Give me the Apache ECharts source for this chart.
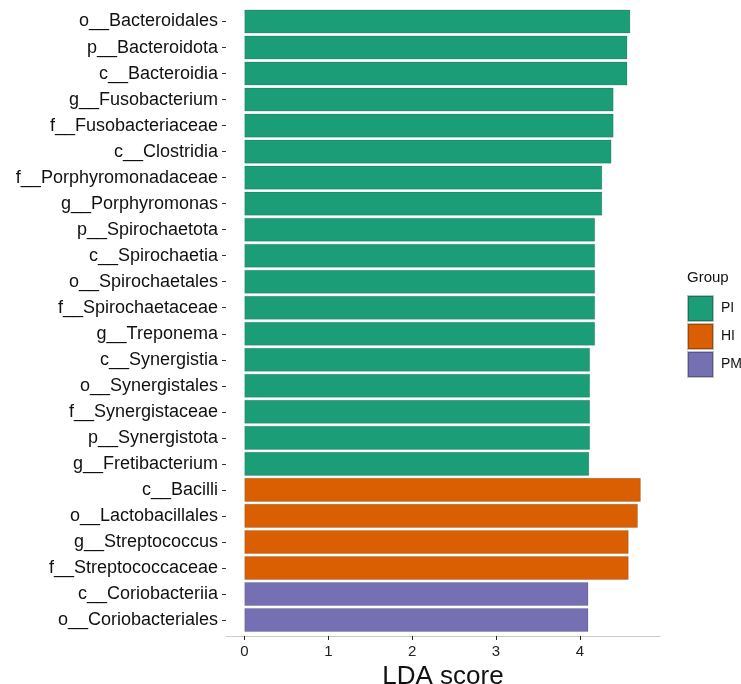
<!DOCTYPE html>
<html>
<head>
<meta charset="utf-8">
<script src="https://cdn.jsdelivr.net/npm/echarts@6/dist/echarts.min.js"></script>
<style>html,body{margin:0;padding:0;background:#fff;}#c{width:741px;height:684px;}</style>
</head>
<body>
<div id="c"></div>
<script>
var categories = ["o__Bacteroidales","p__Bacteroidota","c__Bacteroidia","g__Fusobacterium","f__Fusobacteriaceae","c__Clostridia","f__Porphyromonadaceae","g__Porphyromonas","p__Spirochaetota","c__Spirochaetia","o__Spirochaetales","f__Spirochaetaceae","g__Treponema","c__Synergistia","o__Synergistales","f__Synergistaceae","p__Synergistota","g__Fretibacterium","c__Bacilli","o__Lactobacillales","g__Streptococcus","f__Streptococcaceae","c__Coriobacteriia","o__Coriobacteriales"];
var groups = ["PI","PI","PI","PI","PI","PI","PI","PI","PI","PI","PI","PI","PI","PI","PI","PI","PI","PI","HI","HI","HI","HI","PM","PM"];
var ldaScores = [4.60,4.565,4.565,4.40,4.40,4.375,4.265,4.265,4.18,4.18,4.18,4.18,4.18,4.12,4.12,4.12,4.12,4.11,4.725,4.69,4.58,4.58,4.10,4.10];
var groupNames = ["PI","HI","PM"];
var groupColors = {"PI":"#1b9e77","HI":"#d95f02","PM":"#7570b3"};
var xTicks = [0,1,2,3,4];

var FONT = 'Liberation Sans, Arial, sans-serif';
var chart = echarts.init(document.getElementById('c'), null, {renderer:'canvas'});
var series = groupNames.map(function(g){
  return {
    name: g,
    type: 'bar',
    stack: 'all',
    barCategoryGap: '9%',
    itemStyle: {color: groupColors[g], borderColor: 'rgba(0,0,0,0.25)', borderWidth: 0.6},
    data: ldaScores.map(function(v,i){ return groups[i]===g ? v : null; })
  };
});
chart.setOption({
  animation: false,
  backgroundColor: '#fff',
  textStyle: {fontFamily: FONT},
  title: {text: 'Group', left: 687, top: 270, padding: 0, textStyle: {fontSize: 15, fontWeight: 'normal', color: '#111', fontFamily: FONT}},
  legend: {
    orient: 'vertical', left: 687, top: 295, padding: 0, itemWidth: 25, itemHeight: 25, itemGap: 1,
    icon: 'rect', data: groupNames,
    textStyle: {fontSize: 14, color: '#111', padding: [0,0,0,3], fontFamily: FONT}
  },
  grid: {left: 226, right: 81, top: 8.5, bottom: 684-633, containLabel: false, outerBoundsMode: 'none'},
  xAxis: {
    type: 'value', min: -0.22, max: 4.955, offset: 3,
    splitLine: {show: false},
    axisLine: {show: true, lineStyle: {color: '#c8cfc0', width: 1}},
    axisTick: {show: true, customValues: xTicks, length: 4, lineStyle: {color: '#222'}},
    axisLabel: {customValues: xTicks, fontSize: 15, color: '#222', margin: 8, fontFamily: FONT},
    name: 'LDA score', nameLocation: 'middle', nameGap: 22,
    nameTextStyle: {fontSize: 26, color: '#111', fontFamily: FONT}
  },
  yAxis: {
    type: 'category', data: categories, inverse: true,
    axisLine: {show: false, onZero: false},
    axisTick: {show: true, length: 4, alignWithLabel: true, lineStyle: {color: '#333'}},
    axisLabel: {fontSize: 18, color: '#111', margin: 8, fontFamily: FONT}
  },
  series: series
});
</script>
</body>
</html>
